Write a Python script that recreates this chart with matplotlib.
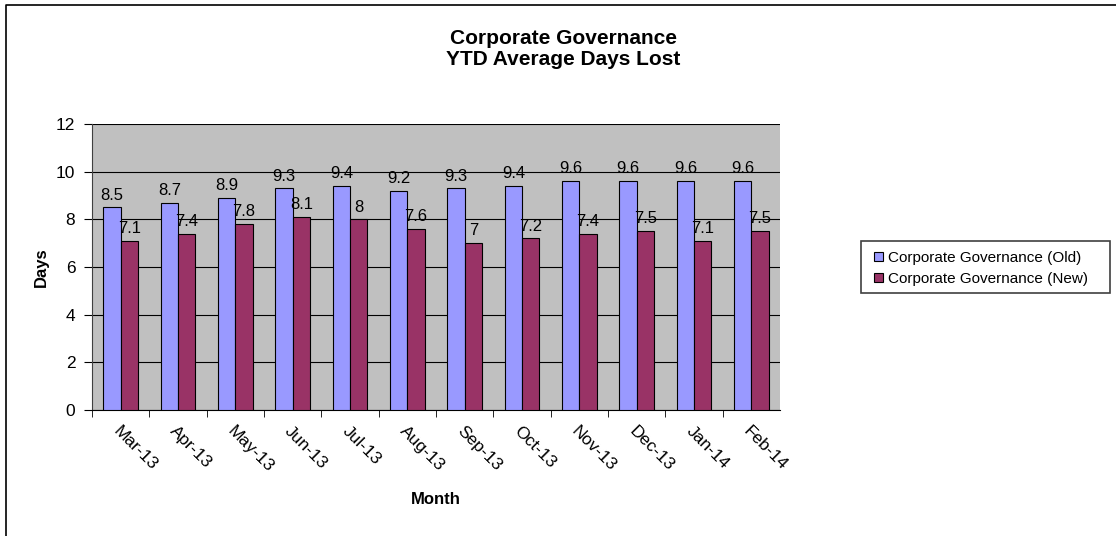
import matplotlib.pyplot as plt
import numpy as np
from matplotlib.lines import Line2D
from matplotlib.patches import Rectangle

plt.rcParams['font.family'] = ['Liberation Sans', 'DejaVu Sans']

months = ['Mar-13', 'Apr-13', 'May-13', 'Jun-13', 'Jul-13', 'Aug-13',
          'Sep-13', 'Oct-13', 'Nov-13', 'Dec-13', 'Jan-14', 'Feb-14']
old_vals = [8.5, 8.7, 8.9, 9.3, 9.4, 9.2, 9.3, 9.4, 9.6, 9.6, 9.6, 9.6]
new_vals = [7.1, 7.4, 7.8, 8.1, 8, 7.6, 7, 7.2, 7.4, 7.5, 7.1, 7.5]
old_labels = ['8.5', '8.7', '8.9', '9.3', '9.4', '9.2', '9.3', '9.4', '9.6', '9.6', '9.6', '9.6']
new_labels = ['7.1', '7.4', '7.8', '8.1', '8', '7.6', '7', '7.2', '7.4', '7.5', '7.1', '7.5']

W, H = 1116, 536
fig = plt.figure(figsize=(W / 100, H / 100), dpi=100)
ax = fig.add_axes([92 / W, 1 - 410 / H, (780 - 92) / W, (410 - 124) / H])

# chart border (only top and left edges show in the reference)
fig.lines.append(Line2D([6 / W, 6 / W, 1], [0, 1 - 5 / H, 1 - 5 / H],
                        transform=fig.transFigure, color='black', linewidth=1.2))

index = np.arange(len(months))
w = 0.3
ax.set_facecolor('#C0C0C0')
ax.bar(index - w / 2, old_vals, w, color='#9999FF', edgecolor='black',
       linewidth=0.8, label='Corporate Governance (Old)', zorder=3)
ax.bar(index + w / 2, new_vals, w, color='#993366', edgecolor='black',
       linewidth=0.8, label='Corporate Governance (New)', zorder=3)

for i in index:
    ax.text(i - w / 2, old_vals[i] + 0.2, old_labels[i], ha='center', va='bottom',
            fontsize=12, zorder=4)
    ax.text(i + w / 2, new_vals[i] + 0.2, new_labels[i], ha='center', va='bottom',
            fontsize=12, zorder=4)

ax.set_xlim(-0.5, len(months) - 0.5)
ax.set_ylim(0, 12)
ax.set_yticks(range(0, 13, 2))
ax.yaxis.grid(True, color='black', linewidth=0.8, zorder=1)
ax.set_axisbelow(True)
for s in ['top', 'right']:
    ax.spines[s].set_visible(False)
ax.spines['left'].set_color('#404040')
ax.spines['bottom'].set_color('black')

ax.set_xticks(index - 0.5, minor=True)
ax.set_xticks(index)
ax.set_xticklabels(months, rotation=-45, ha='left', rotation_mode='anchor', fontsize=12.5)
ax.tick_params(axis='x', which='major', length=0, pad=10)
ax.tick_params(axis='x', which='minor', length=5, direction='out')
ax.tick_params(axis='y', labelsize=12.5, length=6, direction='out', pad=6)

ax.set_xlabel('Month', fontsize=12, fontweight='bold', labelpad=12)
ax.set_ylabel('Days', fontsize=12, fontweight='bold', labelpad=5)

fig.text(563 / W, 1 - 49 / H, 'Corporate Governance\nYTD Average Days Lost',
         ha='center', va='center', fontsize=15, fontweight='bold', linespacing=1.1)

# legend with a hand-drawn frame to get Excel-like margins
leg = fig.legend(loc='upper left', bbox_to_anchor=(874 / W, 1 - 251 / H),
                 fontsize=11, frameon=False,
                 handlelength=0.6, handleheight=0.6, handletextpad=0.3,
                 borderpad=0.0, borderaxespad=0.0, labelspacing=0.45)
for h in leg.legend_handles:
    h.set_edgecolor('black')
    h.set_linewidth(0.8)
fig.patches.append(Rectangle((861 / W, 1 - 293 / H), 249 / W, 52 / H,
                             transform=fig.transFigure, fill=False,
                             edgecolor='#404040', linewidth=1.2))

fig.savefig('out.png', dpi=100)
